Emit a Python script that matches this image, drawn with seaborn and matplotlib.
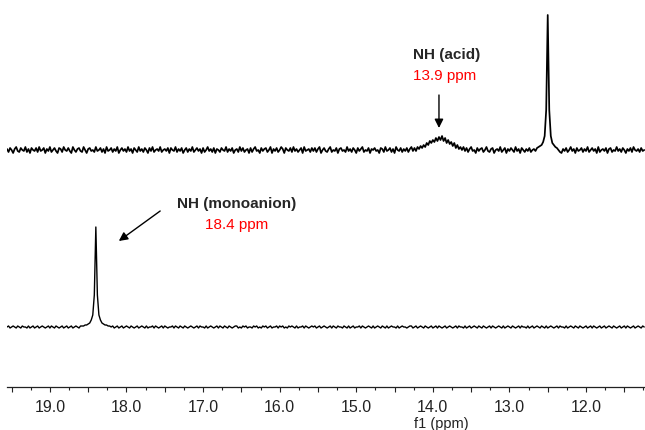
import numpy as np
import pandas as pd
import matplotlib
matplotlib.use("Agg")
import matplotlib.pyplot as plt
from matplotlib.ticker import MultipleLocator, FuncFormatter
import seaborn as sns

ppm_start = 19.56
ppm_step = 0.02

# upper trace: NH (acid) broad hump at 13.9 ppm, sharp line at 12.5 ppm
acid = [
    1, -2, 2, 0, -3, 1, 3, -1, -2, 2, 0, -1, 3, -2, 1, -3, 2, 0, -1, 2,
    -2, 3, -1, 0, 2, -3, 1, -1, 3, -2, 0, 2, -1, -3, 2, 1, -2, 3, 0, -1,
    2, -1, -3, 3, 0, -2, 1, 2, -1, -2, 3, 0, -3, 1, 2, -1, 0, -2, 3, -1,
    0, 2, -2, 1, -3, 3, -1, 0, 2, -2, 1, -1, 3, -3, 0, 2, -1, 1, -2, 3,
    -1, 1, -3, 2, 0, -2, 3, -1, 1, -2, 2, 0, -3, 2, -1, 3, -2, 0, 1, -1,
    3, -2, 0, 1, -1, 2, -3, 2, 0, -1, 3, -2, 1, -1, 2, -3, 0, 2, -2, 1,
    -1, 3, -2, 0, 2, -1, 1, -3, 2, -2, 0, 3, -1, 1, -2, 2, -3, 1, 0, -2,
    2, 0, -1, 3, -2, 1, -1, 2, -3, 0, 1, -2, 3, -1, 2, -2, 0, 1, -3, 2,
    -2, 1, 3, -1, 0, -3, 2, -1, 1, 2, -2, 0, 3, -3, 1, -1, 2, -2, 0, 3,
    1, -3, 2, 0, -1, 2, -2, 3, -1, 1, -2, 0, 2, -3, 3, -1, 0, 1, -2, 2,
    -1, 2, -2, 1, 3, -3, 0, 2, -1, -2, 1, 3, -2, 0, -1, 2, -3, 1, 2, -1,
    0, -2, 3, -1, 1, -2, 2, 0, -3, 2, -1, 1, 3, -2, 0, -1, 2, -3, 1, 0,
    2, -1, 0, -3, 2, 1, -2, 3, -1, 0, 2, -2, 1, -3, 3, 0, -1, 2, -2, 1,
    -1, 2, -2, 1, 3, -1, 2, -1, 3, 1, 4, 2, 5, 3, 7, 5, 9, 7, 10, 8,
    12, 9, 13, 10, 14, 9, 12, 7, 10, 6, 8, 4, 7, 2, 5, 1, 3, 0, 3, -1,
    2, -2, 1, 3, -1, 0, -3, 2, -1, 1, 2, -2, 0, 3, -1, -2, 1, 2, -3, 0,
    1, -1, 3, -2, 0, 2, -3, 1, -1, 2, 0, -2, 3, -1, 1, -3, 2, 0, -2, 1,
    -1, 2, -2, 0, 1, -1, 2, 3, 4, 5, 8, 14, 40, 135, 40, 14, 7, 5, 3, 2,
    0, -2, -3, 1, -1, 2, -2, 0, 3, -1, 1, -3, 2, -1, 0, 2, -2, 1, -1, 3,
    -2, 0, 2, -1, 1, -3, 3, -2, 0, 1, -1, 2, -3, 1, 2, -2, 0, -1, 3, -1,
    1, -2, 2, 0, -3, 1, -1, 2, -2, 3, 0, -1, 1, -2, 2, -1, 0,
]

# lower trace: NH (monoanion) line at 18.4 ppm
monoanion = [
    0, 1, -1, 0, 1, 0, -1, 1, 0, -1, 1, 0, 0, -1, 1, -1, 0, 1, -1, 0,
    1, -1, 0, 1, 0, -1, 0, 1, -1, 1, 0, -1, 1, 0, -1, 0, 1, -1, 0, 1,
    -1, 0, 1, -1, 0, 1, 0, -1, 1, 1, 1, 2, 2, 3, 4, 7, 12, 32, 100, 32,
    12, 7, 4, 3, 2, 2, 1, 1, 0, 1, -1, 0, 1, -1, 0, 1, -1, 0, 1, 0,
    -1, 1, 0, -1, 0, 1, -1, 0, 1, 0, -1, 1, -1, 0, 0, 1, -1, 1, 0, -1,
    0, 1, -1, 1, 0, -1, 0, 0, 1, -1, 1, 0, -1, 1, 0, -1, 1, 0, -1, 0,
    1, 0, -1, 0, 1, -1, 1, 0, 0, -1, 1, -1, 0, 1, 0, -1, 0, 1, -1, 1,
    0, -1, 1, 0, -1, 1, 0, -1, 0, 1, 1, -1, 0, -1, 1, 0, 1, -1, 0, 0,
    -1, 1, 0, 1, -1, 0, -1, 1, 0, 1, -1, 0, 1, -1, 0, 0, 1, -1, 1, 0,
    1, -1, 0, -1, 1, 0, 1, 0, -1, 1, -1, 0, 0, 1, -1, 1, 0, -1, 0, 1,
    0, 1, -1, 0, 1, -1, 0, 1, 0, -1, 0, 1, -1, 1, 0, -1, 1, 0, 0, -1,
    1, 0, -1, 1, -1, 0, 1, -1, 0, 0, 1, -1, 1, 0, -1, 0, 1, 0, -1, 1,
    -1, 0, 1, 0, -1, 1, 0, -1, 1, -1, 0, 1, 0, 0, -1, 1, -1, 0, 1, 0,
    0, -1, 0, 1, 1, -1, 0, 1, -1, 0, 1, 0, -1, 1, 0, -1, 0, 1, -1, 0,
    1, -1, 1, 0, -1, 0, 1, -1, 0, 1, 0, -1, 0, 1, -1, 1, 0, 0, -1, 1,
    -1, 0, 1, -1, 0, 1, 0, -1, 1, 0, -1, 1, 0, -1, 0, 1, -1, 1, 0, -1,
    0, 1, 0, -1, 1, -1, 0, 1, 0, -1, 1, 0, -1, 0, 1, -1, 1, 0, 0, -1,
    1, -1, 0, 1, -1, 0, 1, 0, -1, 1, 0, -1, 1, -1, 0, 1, 0, -1, 0, 1,
    -1, 1, 0, 0, -1, 1, -1, 0, 1, 0, -1, 1, 0, -1, 1, 0, -1, 0, 1, -1,
    0, 1, -1, 1, 0, -1, 0, 1, -1, 0, 1, -1, 0, 1, 0, -1, 1, 0, -1, 0,
    1, -1, 0, 1, -1, 1, 0, -1, 0, 1, -1, 0, 1, 0, -1, 1, 0,
]

tick_labels_at = [19.0, 18.0, 17.0, 16.0, 15.0, 14.0, 13.0, 12.0]

sns.set_style("white")
plt.rcParams['font.family'] = ['Liberation Sans', 'DejaVu Sans']

# vertical offsets of the stacked spectra (px-like units above the axis line)
upper_offset = 237
lower_offset = 60

frames = []
for name, vals, off in [("acid", acid, upper_offset), ("monoanion", monoanion, lower_offset)]:
    ppm = ppm_start - ppm_step * np.arange(len(vals))
    frames.append(pd.DataFrame({"ppm": ppm, "intensity": np.array(vals, float) + off, "trace": name}))
df = pd.concat(frames, ignore_index=True)

fig = plt.figure(figsize=(6.45, 4.31), dpi=100)
ax = fig.add_axes([7 / 645, 43 / 431, 638 / 645, 388 / 431])

for name, lw in [("acid", 1.25), ("monoanion", 1.0)]:
    sns.lineplot(data=df[df["trace"] == name], x="ppm", y="intensity", sort=False,
                 estimator=None, color="black", linewidth=lw, ax=ax)

ax.set_xlim(19.56, 11.23)
ax.set_ylim(0, 388)

# axis styling: only the bottom ppm scale
for side in ["left", "right", "top"]:
    ax.spines[side].set_visible(False)
ax.spines["bottom"].set_linewidth(0.9)
ax.spines["bottom"].set_color("#222222")
ax.set_yticks([])
ax.set_ylabel("")
ax.xaxis.set_major_locator(MultipleLocator(0.5))
ax.xaxis.set_minor_locator(MultipleLocator(0.25))
ax.xaxis.set_major_formatter(FuncFormatter(
    lambda v, p: f"{v:.1f}" if any(abs(v - t) < 1e-6 for t in tick_labels_at) else ""))
ax.tick_params(axis="x", which="major", direction="out", length=3.5, width=0.8,
               pad=5.5, labelsize=11.5, bottom=True, colors="#222222")
ax.tick_params(axis="x", which="minor", direction="out", length=2, width=0.8, bottom=True,
               colors="#222222")
ax.set_xlabel("f1 (ppm)", fontsize=10.5, color="#222222")
ax.xaxis.set_label_coords(0.680, -0.075)

# annotations
ax.text(13.82, 333, "NH (acid)", fontsize=11, fontweight="bold", ha="center", va="center")
ax.text(13.84, 312, "13.9 ppm", fontsize=11, color="red", ha="center", va="center")
ax.annotate("", xy=(13.92, 259), xytext=(13.92, 292),
            arrowprops=dict(arrowstyle="-|>", color="black", lw=1.0, mutation_scale=13,
                            shrinkA=0, shrinkB=0))

ax.text(16.56, 184, "NH (monoanion)", fontsize=11, fontweight="bold", ha="center", va="center")
ax.text(16.56, 163, "18.4 ppm", fontsize=11, color="red", ha="center", va="center")
ax.annotate("", xy=(18.10, 146), xytext=(17.56, 176),
            arrowprops=dict(arrowstyle="-|>", color="black", lw=1.0, mutation_scale=13,
                            shrinkA=0, shrinkB=0))

fig.savefig("out.png", dpi=100)
